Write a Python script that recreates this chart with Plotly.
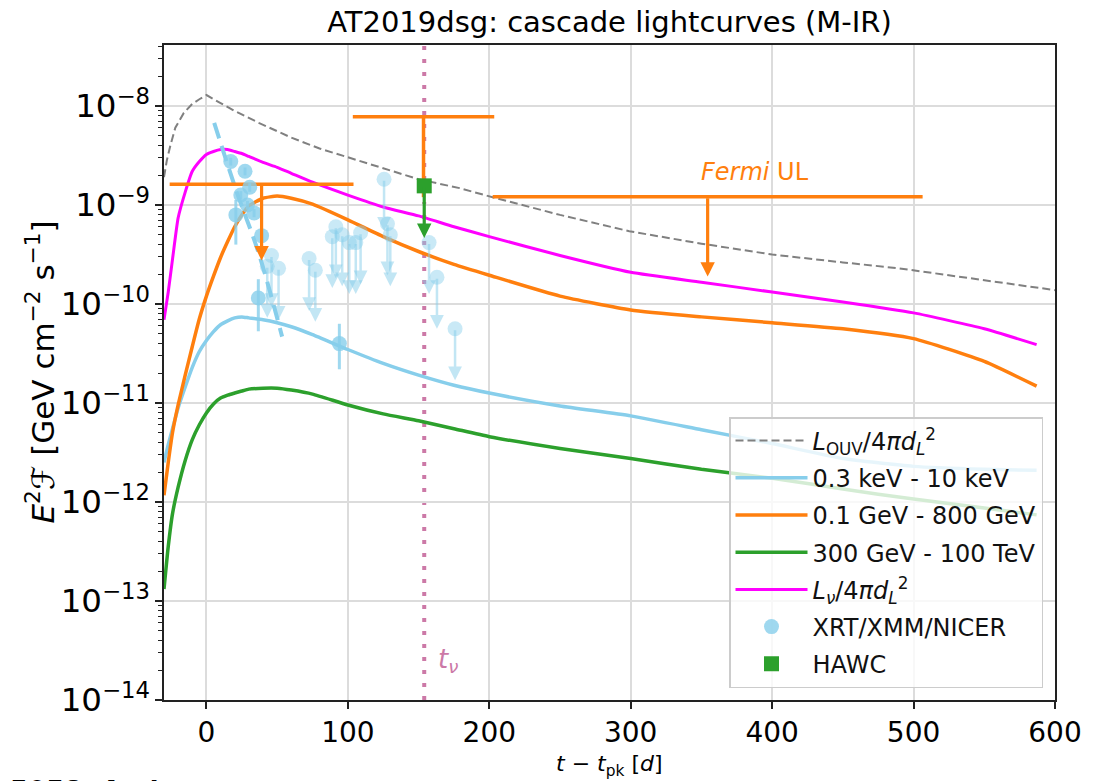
import numpy as np
import plotly.graph_objects as go

FONT = "DejaVu Sans"

# ---------------- data ----------------
# model time grid: days since peak
t_model = [-30, -27, -24, -20, -15, -10, -5, 0, 5, 10, 15, 20, 25, 30, 40, 50, 60, 75,
           100, 125, 150, 175, 200, 250, 300, 350, 400, 450, 500, 550, 587]
xray_model = [2.51e-12, 3.8e-12, 5.5e-12, 8.9e-12, 1.45e-11, 2.29e-11, 3.31e-11, 4.27e-11,
              5.25e-11, 6.17e-11, 6.76e-11, 7.24e-11, 7.41e-11, 7.24e-11, 6.92e-11, 6.46e-11,
              5.89e-11, 4.90e-11, 3.47e-11, 2.51e-11, 1.91e-11, 1.51e-11, 1.26e-11, 9.33e-12,
              7.41e-12, 5.37e-12, 3.89e-12, 2.75e-12, 2.29e-12, 2.14e-12, 2.09e-12]
gev_model = [1.17e-12, 2.51e-12, 5.01e-12, 9.55e-12, 1.91e-11, 3.72e-11, 7.08e-11, 1.20e-10,
             1.91e-10, 2.95e-10, 4.27e-10, 6.03e-10, 7.94e-10, 9.77e-10, 1.17e-9, 1.23e-9,
             1.17e-9, 1.02e-9, 7.08e-10, 4.79e-10, 3.39e-10, 2.51e-10, 1.95e-10, 1.20e-10,
             8.71e-11, 7.41e-11, 6.46e-11, 5.62e-11, 4.47e-11, 2.63e-11, 1.48e-11]
tev_model = [1.32e-13, 3.55e-13, 7.59e-13, 1.41e-12, 2.63e-12, 4.27e-12, 6.03e-12, 7.94e-12,
             9.77e-12, 1.12e-11, 1.20e-11, 1.26e-11, 1.32e-11, 1.38e-11, 1.41e-11, 1.41e-11,
             1.35e-11, 1.23e-11, 9.55e-12, 7.76e-12, 6.61e-12, 5.50e-12, 4.57e-12, 3.47e-12,
             2.75e-12, 2.14e-12, 1.74e-12, 1.35e-12, 1.07e-12, 8.71e-13, 7.41e-13]
nu_model = [6.92e-11, 1.32e-10, 2.82e-10, 7.41e-10, 1.35e-9, 2.19e-9, 2.75e-9, 3.24e-9,
            3.47e-9, 3.63e-9, 3.63e-9, 3.47e-9, 3.31e-9, 3.09e-9, 2.69e-9, 2.40e-9,
            2.09e-9, 1.70e-9, 1.26e-9, 9.55e-10, 7.76e-10, 6.03e-10, 4.79e-10, 3.09e-10,
            2.09e-10, 1.66e-10, 1.32e-10, 1.05e-10, 8.13e-11, 5.62e-11, 3.89e-11]

# optical/UV luminosity curve
t_ouv = [-30, -28, -25.5, -22, -16, -10, -5, 0, 10, 20, 37, 60, 80, 100, 122, 150, 179, 203,
         250, 299, 350, 400, 450, 490, 540, 600]
ouv = [1.91e-9, 2.82e-9, 3.98e-9, 6.03e-9, 8.51e-9, 1.05e-8, 1.17e-8, 1.29e-8, 1.07e-8, 8.91e-9,
       6.76e-9, 4.79e-9, 3.72e-9, 3.02e-9, 2.40e-9, 1.82e-9, 1.48e-9, 1.19e-9, 7.94e-10,
       5.43e-10, 4.07e-10, 3.16e-10, 2.63e-10, 2.29e-10, 1.82e-10, 1.38e-10]

# X-ray decay fit (dashed)
t_fit = [5.5, 21, 37, 53.5]
xray_fit = [6.76e-9, 1.41e-9, 3.24e-10, 4.68e-11]

# X-ray detections
xray_det_t = [17.2, 20.8, 24.3, 27.3, 29.0, 30.6, 33.7, 36.7, 39.0, 94.0]
xray_det = [2.75e-9, 7.94e-10, 1.26e-9, 2.19e-9, 1.00e-9, 1.51e-9, 8.32e-10, 1.15e-10,
            4.90e-10, 3.98e-11]
xray_det_err_hi = [2.5e-10, 3.3e-10, 1.2e-10, 2.0e-10, 1.0e-10, 1.5e-10, 8.0e-11, 6.3e-11,
                   5.0e-11, 2.33e-11]
xray_det_err_lo = [2.5e-10, 3.96e-10, 1.2e-10, 2.0e-10, 1.0e-10, 1.5e-10, 8.0e-11, 6.2e-11,
                   5.0e-11, 1.79e-11]

# X-ray upper limits (value and arrow tip)
xray_ul_t = [43, 46, 51, 72.6, 77, 89, 91.5, 96, 101, 105.6, 109, 125.6, 128, 130,
             157.4, 163, 175.8]
xray_ul = [2.40e-10, 3.09e-10, 2.29e-10, 2.88e-10, 2.19e-10, 4.79e-10, 6.03e-10, 5.01e-10,
           4.17e-10, 4.17e-10, 5.25e-10, 1.82e-9, 6.46e-10, 5.01e-10, 4.17e-10, 1.86e-10,
           5.62e-11]
xray_ul_tip = [7.24e-11, 9.33e-11, 6.92e-11, 8.51e-11, 6.61e-11, 1.45e-10, 1.82e-10,
               1.51e-10, 1.26e-10, 1.26e-10, 1.58e-10, 5.50e-10, 1.95e-10, 1.51e-10,
               1.26e-10, 5.62e-11, 1.70e-11]

# Fermi upper limits
fermi_t = [39, 153.5, 354.4]
fermi_halfwidth = [65, 50, 152]
fermi_ul = [1.62e-9, 7.78e-9, 1.21e-9]
fermi_tip = [2.75e-10, 1.20e-9, 1.89e-10]

# HAWC upper limit
hawc_t = [154]
hawc_ul = [1.56e-9]
hawc_tip = [4.65e-10]

t_nu = 154

# ---------------- colours ----------------
C_X = "#87ceeb"
C_O = "#ff7f0e"
C_G = "#2ca02c"
C_M = "#ff00ff"
C_GRAY = "#808080"
C_NU = "#cc79a7"

fig = go.Figure()

# L_OUV
fig.add_trace(go.Scatter(x=t_ouv, y=ouv, mode="lines",
                         line=dict(color=C_GRAY, width=2, dash="8px,4px"),
                         name="<i>L</i><sub>OUV</sub>/4<i>πd</i><sub><i>L</i></sub><sup>2</sup>",
                         legendrank=1, legendgroup="a"))
# model bands
fig.add_trace(go.Scatter(x=t_model, y=xray_model, mode="lines",
                         line=dict(color=C_X, width=3.5, shape="spline", smoothing=0.5),
                         name="0.3 keV - 10 keV", legendrank=2, legendgroup="b"))
fig.add_trace(go.Scatter(x=t_model, y=gev_model, mode="lines",
                         line=dict(color=C_O, width=3.5, shape="spline", smoothing=0.5),
                         name="0.1 GeV - 800 GeV", legendrank=3, legendgroup="c"))
fig.add_trace(go.Scatter(x=t_model, y=tev_model, mode="lines",
                         line=dict(color=C_G, width=3.5, shape="spline", smoothing=0.5),
                         name="300 GeV - 100 TeV", legendrank=4, legendgroup="d"))
fig.add_trace(go.Scatter(x=t_model, y=nu_model, mode="lines",
                         line=dict(color=C_M, width=3, shape="spline", smoothing=0.5),
                         name="<i>L</i><sub><i>ν</i></sub>/4<i>πd</i><sub><i>L</i></sub><sup>2</sup>",
                         legendrank=5, legendgroup="e"))
# X-ray fit
fig.add_trace(go.Scatter(x=t_fit, y=xray_fit, mode="lines",
                         line=dict(color=C_X, width=4, dash="16px,8px", shape="spline"),
                         showlegend=False))

# Fermi ULs horizontal bars
fig.add_trace(go.Scatter(x=fermi_t, y=fermi_ul, mode="markers",
                         marker=dict(size=1, color="rgba(0,0,0,0)"),
                         error_x=dict(type="data", array=fermi_halfwidth, color=C_O,
                                      thickness=3.5, width=0),
                         showlegend=False, hoverinfo="skip"))
# Fermi UL stem hidden behind HAWC square
fig.add_trace(go.Scatter(x=[fermi_t[1], fermi_t[1]], y=[fermi_ul[1], fermi_tip[1]],
                         mode="lines", line=dict(color=C_O, width=3.5),
                         showlegend=False, hoverinfo="skip"))

# X-ray upper limits
fig.add_trace(go.Scatter(x=xray_ul_t, y=xray_ul, mode="markers",
                         marker=dict(size=15, color="rgba(135,206,235,0.45)", line=dict(width=0)),
                         showlegend=False))
# X-ray detections
fig.add_trace(go.Scatter(x=xray_det_t, y=xray_det, mode="markers",
                         marker=dict(size=15, color="rgba(135,206,235,0.8)", line=dict(width=0)),
                         error_y=dict(type="data", symmetric=False, array=xray_det_err_hi,
                                      arrayminus=xray_det_err_lo, color="rgba(135,206,235,0.8)",
                                      thickness=3, width=0),
                         name="XRT/XMM/NICER", legendrank=6, legendgroup="f"))
# HAWC
fig.add_trace(go.Scatter(x=hawc_t, y=hawc_ul, mode="markers",
                         marker=dict(size=15, symbol="square", color=C_G),
                         error_x=dict(type="data", array=[2], color=C_G, thickness=3, width=5),
                         name="HAWC", legendrank=7, legendgroup="g"))

annotations = []
for t, y, tip in zip(xray_ul_t, xray_ul, xray_ul_tip):
    annotations.append(dict(x=t, y=np.log10(tip), ax=t, ay=np.log10(y),
                            xref="x", yref="y", axref="x", ayref="y", text="",
                            showarrow=True, arrowhead=2, arrowsize=1.1, arrowwidth=2.5,
                            arrowcolor="rgba(135,206,235,0.5)", standoff=0))
for i in (0, 2):
    annotations.append(dict(x=fermi_t[i], y=np.log10(fermi_tip[i]), ax=fermi_t[i],
                            ay=np.log10(fermi_ul[i]), xref="x", yref="y", axref="x",
                            ayref="y", text="", showarrow=True, arrowhead=2, arrowsize=0.9,
                            arrowwidth=3.2, arrowcolor=C_O, standoff=0))
annotations.append(dict(x=hawc_t[0], y=np.log10(hawc_tip[0]), ax=hawc_t[0],
                        ay=np.log10(hawc_ul[0]), xref="x", yref="y", axref="x", ayref="y",
                        text="", showarrow=True, arrowhead=2, arrowsize=0.9, arrowwidth=3.2,
                        arrowcolor=C_G, standoff=0))
# text labels
annotations.append(dict(x=388, y=-8.67, xref="x", yref="y", text="<i>Fermi</i> UL",
                        showarrow=False, font=dict(size=24, family=FONT, color=C_O)))
annotations.append(dict(x=162, y=-13.6, xref="x", yref="y", text="<i>t</i><sub><i>ν</i></sub>",
                        showarrow=False, xanchor="left",
                        font=dict(size=26, family=FONT, color=C_NU)))
annotations.append(dict(x=(40 - 164) / 891, y=0.5, xref="paper", yref="paper",
                        text="<i>E</i><sup>2</sup>ℱ [GeV cm<sup>−2</sup> s<sup>−1</sup>]",
                        textangle=-90, showarrow=False, xanchor="center", yanchor="middle",
                        font=dict(size=31, family=FONT, color="black")))
annotations.append(dict(x=0.5, y=(700 - 765) / 655, xref="paper", yref="paper",
                        text="<i>t</i> − <i>t</i><sub>pk</sub> [<i>d</i>]",
                        xanchor="center", yanchor="middle",
                        showarrow=False, font=dict(size=22, family=FONT, color="black")))
annotations.append(dict(x=(8 - 164) / 891, y=(700 - 791) / 655, xref="paper", yref="paper",
                        text="<b>5058, And</b>", xanchor="left", yanchor="middle",
                        showarrow=False, font=dict(size=26, family=FONT, color="black")))

fig.add_shape(type="line", x0=t_nu, x1=t_nu, y0=0, y1=1, xref="x", yref="paper",
              line=dict(color=C_NU, width=4, dash="4px,9px"), layer="below")

axis_common = dict(showgrid=True, gridcolor="#dcdcdc", gridwidth=1.5, ticks="outside",
                   ticklen=7, tickwidth=1.5, tickcolor="#222", showline=True,
                   linecolor="#222", linewidth=1.5, mirror=True, zeroline=False)

fig.update_layout(
    width=1110, height=781,
    margin=dict(l=164, r=55, t=45, b=81),
    paper_bgcolor="white", plot_bgcolor="white",
    font=dict(family=FONT, color="black"),
    title=dict(text="AT2019dsg: cascade lightcurves (M-IR)", x=0.5, xref="paper",
               xanchor="center", y=1 - 22 / 781, yref="container", yanchor="middle",
               font=dict(size=29, family=FONT, color="black")),
    xaxis=dict(range=[-30, 600], dtick=100, tick0=0,
               tickfont=dict(size=28, family=FONT, color="black"), **axis_common),
    yaxis=dict(type="log", range=[-14, np.log10(4.13e-8)], dtick=1,
               exponentformat="power", showexponent="all",
               tickfont=dict(size=26, family=FONT, color="black"),
               minor=dict(ticks="outside", ticklen=4, tickwidth=1, tickcolor="#222",
                          showgrid=False, dtick="D1"),
               **axis_common),
    legend=dict(x=(1043 - 164) / 891, xanchor="right", y=(700 - 688) / 655,
                yanchor="bottom", bgcolor="rgba(255,255,255,0.8)",
                bordercolor="#cccccc", borderwidth=1.5, itemwidth=72,
                tracegroupgap=3, traceorder="grouped",
                font=dict(size=24, family=FONT, color="#111")),
    annotations=annotations,
    showlegend=True,
)

fig.write_html("out.html")
